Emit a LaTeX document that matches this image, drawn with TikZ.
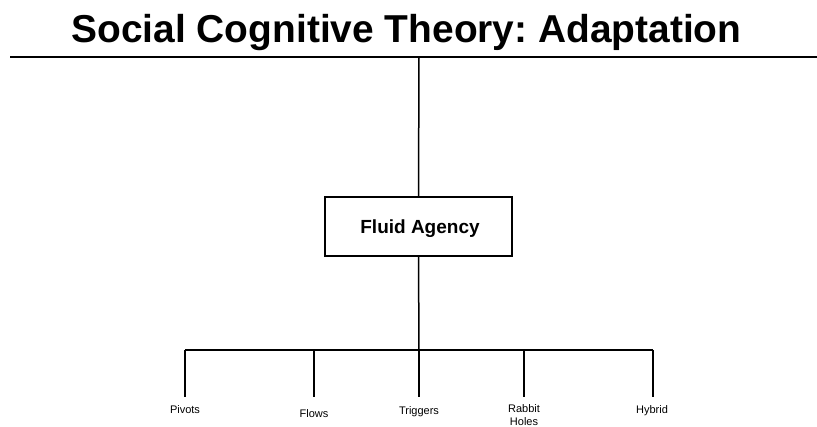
\documentclass[tikz,border=0pt]{standalone}
\usepackage{fontspec}
\setmainfont{Liberation Sans}
\frenchspacing
\begin{document}
\begin{tikzpicture}[x=1pt,y=-1pt,
  conn/.style={line width=1.5pt,black},
  lbl/.style={font=\fontsize{11}{13}\selectfont,anchor=base,inner sep=0pt,align=center}]
\useasboundingbox (0,0) rectangle (817,427);
\node[font=\fontsize{38.9}{44}\bfseries\selectfont,anchor=base,inner sep=0pt] (title) at (406.5,43) {Social Cognitive Theory: Adaptation};
\coordinate (hl) at (10,57);
\coordinate (hr) at (817,57);
\coordinate (top) at (419,57);
\draw[line width=2.5pt] (hl) -- (hr);
\node[draw,line width=1.2pt,minimum width=187pt,minimum height=59pt,inner sep=0pt] (fa) at (418.5,226.5) {};
\node[font=\fontsize{19}{22}\bfseries\selectfont,anchor=base,inner sep=0pt] (fat) at (420,234) {Fluid Agency};
\draw[conn] (top) -- (fa.north);
\coordinate (j) at (419,350);
\coordinate (bl) at (185,350);
\coordinate (br) at (653,350);
\draw[conn] (fa.south) -- (j);
\draw[conn] (bl) -- (br);
\coordinate (d1) at (185,397);
\coordinate (d2) at (314,397);
\coordinate (d3) at (419,397);
\coordinate (d4) at (524,397);
\coordinate (d5) at (653,397);
\coordinate (t1) at (185,350);
\coordinate (t2) at (314,350);
\coordinate (t3) at (419,350);
\coordinate (t4) at (524,350);
\coordinate (t5) at (653,350);
\foreach \i in {1,...,5} {\draw[conn] (t\i) -- (d\i);}
\node[lbl] (pivots) at (185,414) {Pivots};
\node[lbl] (flows) at (314,417.5) {Flows};
\node[lbl] (triggers) at (419,414.5) {Triggers};
\node[lbl] (rabbit) at (524,413) {Rabbit};
\node[lbl] (holes) at (524,426) {Holes};
\node[lbl] (hybrid) at (652,414) {Hybrid};
\end{tikzpicture}
\end{document}
